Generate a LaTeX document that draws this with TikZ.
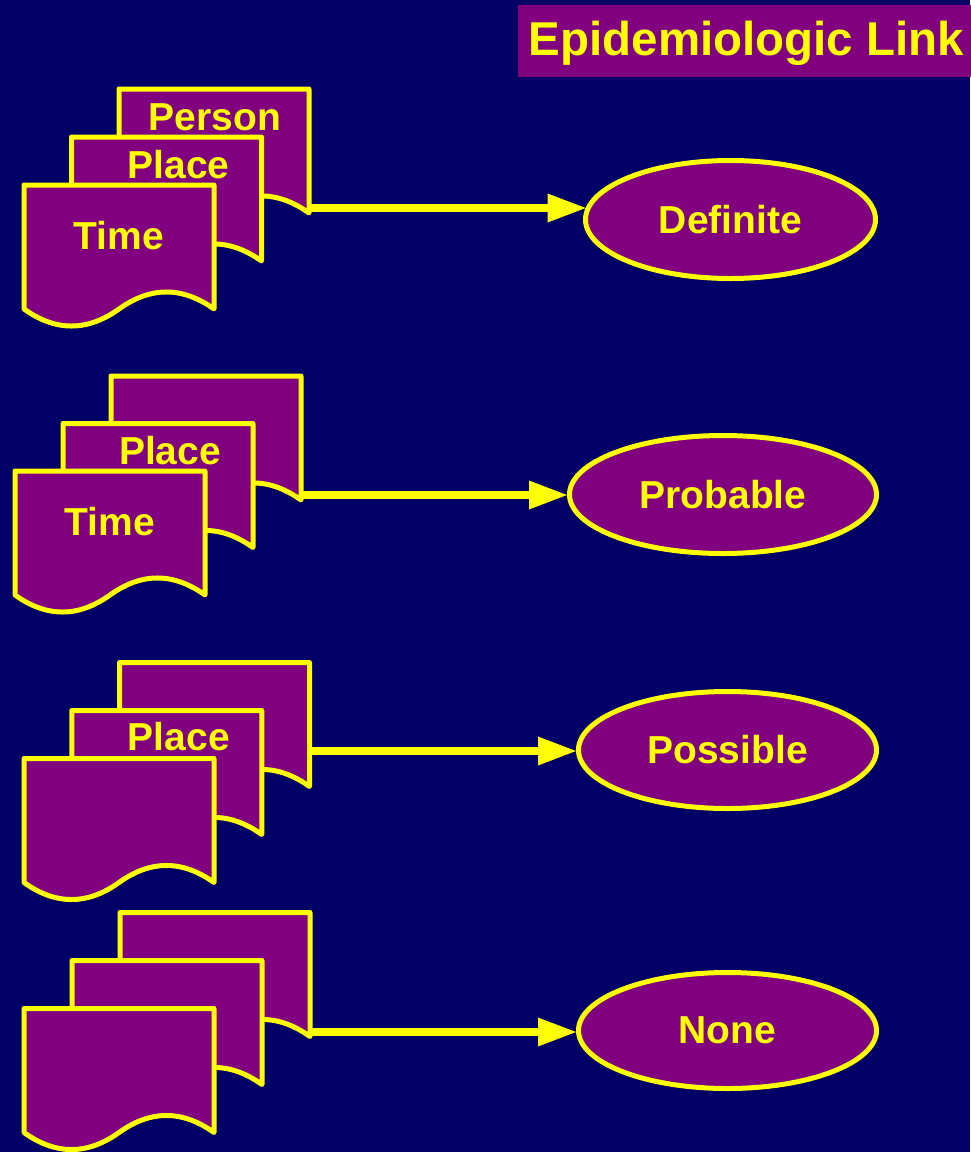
\documentclass[tikz,border=0pt]{standalone}
\usepackage{fontspec}
\setmainfont{Liberation Sans}
\usetikzlibrary{shapes.geometric,arrows.meta}
\definecolor{bg}{HTML}{000066}
\definecolor{pur}{HTML}{800080}
\definecolor{yel}{HTML}{FFFF00}
\tikzset{
  docpage/.style={fill=pur, draw=yel, line width=5pt, line join=round, line cap=round},
  doclabel/.style={text=yel, font=\fontsize{39}{39}\selectfont\bfseries, anchor=base, inner sep=0pt},
  outcome/.style={ellipse, fill=pur, draw=yel, line width=5pt, text=yel,
    font=\fontsize{39}{39}\selectfont\bfseries, inner sep=0pt},
  link/.style={draw=yel, line width=8.5pt,
    -{Triangle[length=38pt,width=29pt,line width=0pt]}},
  titlebox/.style={fill=pur, text=yel, font=\fontsize{47.5}{47.5}\selectfont\bfseries,
    inner sep=0pt, inner xsep=10.5pt, minimum height=72pt, text height=35pt, text depth=7pt},
}
\newcommand\drawdocpage[2]{%
  \path[docpage, shift={(#1,#2)}] (0,0) -- (190,0) -- (190,124)
    .. controls (158.3,101.3) and (126.7,101.3) .. (95,124)
    .. controls (63.3,146.7) and (31.7,146.7) .. (0,124) -- cycle;}
\begin{document}
\begin{tikzpicture}[x=1pt,y=-1pt]
\useasboundingbox (0,0) rectangle (970,1152);
\fill[bg] (0,0) rectangle (970,1152);

% title
\node[titlebox, anchor=west] (title) at (518,41) {Epidemiologic Link};

% outcomes
\node[outcome, minimum width=290pt, minimum height=118pt] (def) at (730.5,219.5) {Definite};
\node[outcome, minimum width=307pt, minimum height=118pt] (prob) at (723,494.5) {Probable};
\node[outcome, minimum width=298pt, minimum height=117pt] (poss) at (727.5,750) {Possible};
\node[outcome, minimum width=298pt, minimum height=116pt] (none) at (727.5,1030.5) {None};

% group 1
\drawdocpage{119}{89}
\drawdocpage{71.5}{137}
\drawdocpage{24}{185}
\node[doclabel] (g1person) at (215,130) {Person};
\node[doclabel] (g1place) at (178.5,178) {Place};
\node[doclabel] (g1time) at (119,249) {Time};
\coordinate (g1src) at (309,208);
\draw[link, shorten >=-2.6pt] (g1src) -- (g1src -| def.west);

% group 2
\drawdocpage{111}{376}
\drawdocpage{63}{423.5}
\drawdocpage{15}{471}
\node[doclabel] (g2place) at (170,464.5) {Place};
\node[doclabel] (g2time) at (110,535) {Time};
\coordinate (g2src) at (301,495);
\draw[link] (g2src) -- (g2src -| prob.west);

% group 3
\drawdocpage{119.5}{662.5}
\drawdocpage{71.75}{710.5}
\drawdocpage{24}{758.5}
\node[doclabel] (g3place) at (178.75,750) {Place};
\coordinate (g3src) at (309.5,751);
\draw[link] (g3src) -- (g3src -| poss.west);

% group 4
\drawdocpage{120}{912.5}
\drawdocpage{72}{960.5}
\drawdocpage{24}{1008.5}
\coordinate (g4src) at (310,1032);
\draw[link] (g4src) -- (g4src -| none.west);
\end{tikzpicture}
\end{document}
